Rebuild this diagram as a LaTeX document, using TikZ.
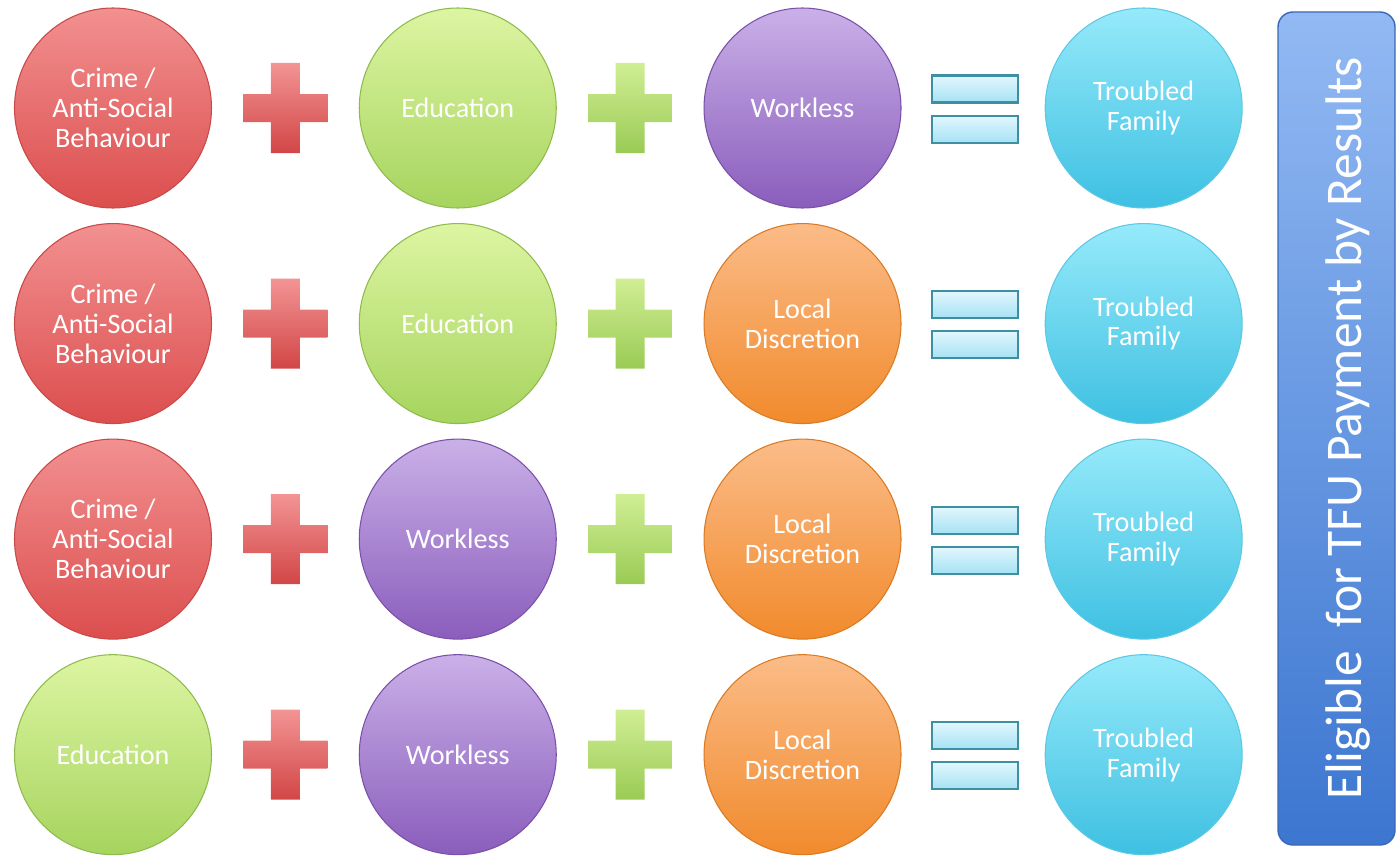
\documentclass[tikz,border=0pt]{standalone}
\usepackage{fontspec}
\setmainfont{Carlito}
\usetikzlibrary{shapes.geometric, positioning, calc}
\definecolor{crimetop}{HTML}{F29090}
\definecolor{crimebot}{HTML}{DC4E4E}
\definecolor{crimeline}{HTML}{C94848}
\definecolor{eductop}{HTML}{DDF5A2}
\definecolor{educbot}{HTML}{A6D45E}
\definecolor{educline}{HTML}{8FBA4E}
\definecolor{worktop}{HTML}{CAB0E8}
\definecolor{workbot}{HTML}{8A5DBC}
\definecolor{workline}{HTML}{7A50A8}
\definecolor{localtop}{HTML}{FBBC88}
\definecolor{localbot}{HTML}{F18A2C}
\definecolor{localline}{HTML}{DA7A22}
\definecolor{famtop}{HTML}{96EAFA}
\definecolor{fambot}{HTML}{3EC0E2}
\definecolor{famline}{HTML}{5CC8E4}
\definecolor{redtop}{HTML}{F39494}
\definecolor{redbot}{HTML}{D24646}
\definecolor{greentop}{HTML}{D0EE94}
\definecolor{greenbot}{HTML}{9ACB55}
\definecolor{eqtop}{HTML}{E2F7FD}
\definecolor{eqbot}{HTML}{A6E2F4}
\definecolor{eqline}{HTML}{3F8FA4}
\definecolor{barlight}{HTML}{92B9F3}
\definecolor{bardark}{HTML}{3C76D0}
\definecolor{barline}{HTML}{3A68B4}

\begin{document}
\begin{tikzpicture}[
    node distance=0.29cm and 0.62cm,
    blob/.style={ellipse, minimum width=3.94cm, minimum height=4cm, inner sep=0pt, line width=0.6pt, text=white, align=center, font=\fontsize{16}{17}\selectfont},
    crime/.style={blob, draw=crimeline, top color=crimetop, bottom color=crimebot},
    educ/.style={blob, draw=educline, top color=eductop, bottom color=educbot},
    workless/.style={blob, draw=workline, top color=worktop, bottom color=workbot},
    local/.style={blob, draw=localline, top color=localtop, bottom color=localbot},
    family/.style={blob, draw=famline, top color=famtop, bottom color=fambot},
    plussign/.style={minimum width=1.68cm, minimum height=1.8cm, inner sep=0pt,
        path picture={\shade[top color=#1top, bottom color=#1bot]
            ($(path picture bounding box.center)+(-0.84,-0.28)$) rectangle ($(path picture bounding box.center)+(0.84,0.28)$)
            ($(path picture bounding box.center)+(-0.29,-0.9)$) rectangle ($(path picture bounding box.center)+(0.29,0.9)$);}},
    eqbar/.style={draw=eqline, line width=1.2pt, top color=eqtop, bottom color=eqbot, minimum width=1.72cm, minimum height=0.54cm, inner sep=0pt},
    bar/.style={rotate=90, minimum width=16.66cm, minimum height=2.34cm, rounded corners=0.3cm, top color=barlight, bottom color=bardark, draw=barline, line width=0.8pt, text=white, text height=0.98cm, text depth=0pt, font=\fontsize{29.3}{36}\selectfont}
]
    \useasboundingbox (0,0) rectangle (27.98,-17.12);

    % Row 1
    \node[crime] (crime1) at (2.26,-2.16) {Crime /\\Anti-Social\\Behaviour};
    \node[plussign=red, right=of crime1] (plusa1) {};
    \node[educ, right=of plusa1] (educ1) {Education};
    \node[plussign=green, right=of educ1] (plusb1) {};
    \node[workless, right=of plusb1] (work1) {Workless};
    \node[eqbar, right=0.58cm of work1, yshift=0.38cm] (eqa1) {};
    \node[eqbar, below=0.22cm of eqa1] (eqb1) {};
    \node[family, right=0.52cm of eqa1, yshift=-0.38cm] (fam1) {Troubled\\Family};

    % Row 2
    \node[crime, below=of crime1] (crime2) {Crime /\\Anti-Social\\Behaviour};
    \node[plussign=red, right=of crime2] (plusa2) {};
    \node[educ, right=of plusa2] (educ2) {Education};
    \node[plussign=green, right=of educ2] (plusb2) {};
    \node[local, right=of plusb2] (local2) {Local\\Discretion};
    \node[eqbar, right=0.58cm of local2, yshift=0.38cm] (eqa2) {};
    \node[eqbar, below=0.22cm of eqa2] (eqb2) {};
    \node[family, right=0.52cm of eqa2, yshift=-0.38cm] (fam2) {Troubled\\Family};

    % Row 3
    \node[crime, below=of crime2] (crime3) {Crime /\\Anti-Social\\Behaviour};
    \node[plussign=red, right=of crime3] (plusa3) {};
    \node[workless, right=of plusa3] (work3) {Workless};
    \node[plussign=green, right=of work3] (plusb3) {};
    \node[local, right=of plusb3] (local3) {Local\\Discretion};
    \node[eqbar, right=0.58cm of local3, yshift=0.38cm] (eqa3) {};
    \node[eqbar, below=0.22cm of eqa3] (eqb3) {};
    \node[family, right=0.52cm of eqa3, yshift=-0.38cm] (fam3) {Troubled\\Family};

    % Row 4
    \node[educ, below=of crime3] (educ4) {Education};
    \node[plussign=red, right=of educ4] (plusa4) {};
    \node[workless, right=of plusa4] (work4) {Workless};
    \node[plussign=green, right=of work4] (plusb4) {};
    \node[local, right=of plusb4] (local4) {Local\\Discretion};
    \node[eqbar, right=0.58cm of local4, yshift=0.38cm] (eqa4) {};
    \node[eqbar, below=0.22cm of eqa4] (eqb4) {};
    \node[family, right=0.52cm of eqa4, yshift=-0.38cm] (fam4) {Troubled\\Family};

    % Side bar
    \node[bar] (tfu) at (26.73,-8.57) {Eligible~ for TFU Payment by Results};
\end{tikzpicture}
\end{document}
